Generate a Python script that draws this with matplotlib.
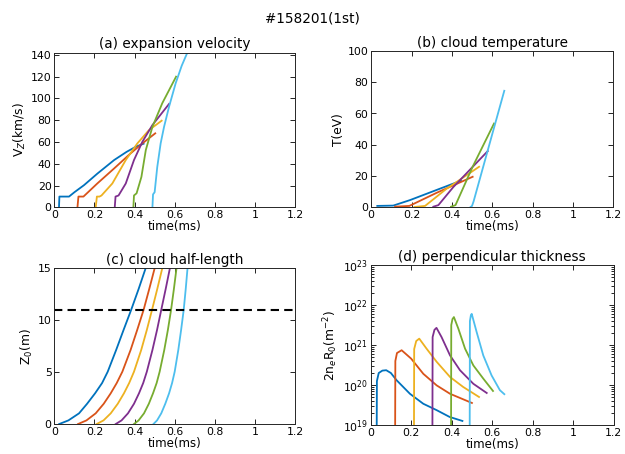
import numpy as np
import matplotlib
matplotlib.use('Agg')
import matplotlib.pyplot as plt

# matlab default line colors
colors = ['#0072BD', '#D95319', '#EDB120', '#7E2F8E', '#77AC30', '#4DBEEE']

# (a) expansion velocity, km/s
ta = [
    [0.023, 0.025, 0.04, 0.073, 0.10, 0.148, 0.214, 0.298, 0.36, 0.406, 0.445],
    [0.115, 0.12, 0.13, 0.145, 0.214, 0.298, 0.38, 0.439, 0.503],
    [0.206, 0.212, 0.225, 0.235, 0.289, 0.356, 0.414, 0.472, 0.535],
    [0.301, 0.305, 0.32, 0.356, 0.397, 0.439, 0.489, 0.572],
    [0.394, 0.397, 0.41, 0.434, 0.456, 0.489, 0.538, 0.607],
    [0.489, 0.492, 0.50, 0.513, 0.53, 0.547, 0.572, 0.605, 0.635, 0.663],
]
va = [
    [0, 10, 10, 10, 14, 20.5, 31, 43.5, 51, 55.7, 58.5],
    [0, 10, 10, 10, 22, 35.8, 49.6, 58.8, 68],
    [0, 10, 10, 11, 22, 43.5, 58.8, 71, 79.6],
    [0, 10, 11, 22, 43.5, 60.3, 75.6, 95],
    [0, 11, 13, 28, 52.7, 74, 95.6, 120],
    [0, 12, 14, 37, 58.8, 74, 92.5, 114, 130, 142],
]

# (b) cloud temperature, eV
tb = [
    [0.03, 0.109, 0.192, 0.3, 0.4, 0.445],
    [0.118, 0.189, 0.325, 0.503],
    [0.214, 0.267, 0.374, 0.535],
    [0.308, 0.333, 0.407, 0.578],
    [0.396, 0.418, 0.503, 0.609],
    [0.49, 0.50, 0.508, 0.66],
]
Tb = [
    [1, 1.2, 4.7, 10, 14.9, 17],
    [0.5, 1, 9.4, 19.6],
    [0.3, 1, 12, 26],
    [0.5, 1.5, 13, 36],
    [0.5, 1.5, 26, 53.6],
    [0, 1, 4, 74.5],
]

# (c) cloud half-length, m  (time at which each curve reaches the levels in zc)
zc = [0, 0.35, 1.03, 1.95, 2.96, 3.95, 5.04, 7.13, 9.06, 11, 13, 15]
tc = [
    [0.024, 0.07, 0.123, 0.163, 0.203, 0.238, 0.266, 0.308, 0.345, 0.383, 0.42, 0.455],
    [0.118, 0.16, 0.206, 0.246, 0.281, 0.311, 0.339, 0.38, 0.413, 0.445, 0.473, 0.5],
    [0.211, 0.245, 0.281, 0.316, 0.347, 0.373, 0.397, 0.433, 0.461, 0.487, 0.513, 0.538],
    [0.306, 0.335, 0.367, 0.397, 0.422, 0.443, 0.461, 0.489, 0.512, 0.533, 0.555, 0.576],
    [0.397, 0.42, 0.447, 0.471, 0.492, 0.51, 0.525, 0.548, 0.566, 0.582, 0.596, 0.609],
    [0.494, 0.512, 0.533, 0.553, 0.572, 0.587, 0.6, 0.618, 0.632, 0.645, 0.655, 0.664],
]
z_limit = 11

# (d) perpendicular thickness, log10 of m^-2
td = [
    [0.03, 0.031, 0.04, 0.058, 0.077, 0.10, 0.128, 0.194, 0.26, 0.326, 0.39, 0.453],
    [0.121, 0.122, 0.13, 0.153, 0.2, 0.26, 0.326, 0.392, 0.5],
    [0.214, 0.215, 0.225, 0.24, 0.276, 0.326, 0.392, 0.457, 0.535],
    [0.305, 0.306, 0.315, 0.325, 0.35, 0.392, 0.441, 0.507, 0.573],
    [0.397, 0.398, 0.404, 0.411, 0.433, 0.466, 0.507, 0.556, 0.604],
    [0.489, 0.49, 0.495, 0.499, 0.523, 0.556, 0.597, 0.638, 0.66],
]
nd_log = [
    [18.9, 20.1, 20.3, 20.36, 20.37, 20.3, 20.12, 19.78, 19.53, 19.37, 19.2, 19.1],
    [18.9, 20.6, 20.8, 20.87, 20.66, 20.28, 19.99, 19.78, 19.55],
    [18.9, 20.9, 21.1, 21.16, 20.91, 20.58, 20.2, 19.95, 19.7],
    [18.9, 21.2, 21.38, 21.43, 21.2, 20.74, 20.37, 20.03, 19.8],
    [18.9, 21.5, 21.65, 21.7, 21.41, 20.91, 20.49, 20.16, 19.85],
    [18.9, 21.6, 21.75, 21.78, 21.33, 20.74, 20.24, 19.87, 19.77],
]

xticks = [0, 0.2, 0.4, 0.6, 0.8, 1, 1.2]
xticklabels = ['0', '0.2', '0.4', '0.6', '0.8', '1', '1.2']

plt.rcParams['font.family'] = ['DejaVu Sans']
plt.rcParams['mathtext.fontset'] = 'dejavusans'

fig = plt.figure(figsize=(6.25, 4.54), dpi=100)
fig.text(0.5, 0.96, '#158201(1st)', ha='center', va='center', fontsize=9.8)

ax_a = fig.add_axes([0.087, 0.543, 0.385, 0.341])
ax_b = fig.add_axes([0.594, 0.543, 0.387, 0.345])
ax_c = fig.add_axes([0.087, 0.066, 0.385, 0.343])
ax_d = fig.add_axes([0.593, 0.064, 0.389, 0.352])


def style(ax, title, ylabel):
    ax.set_xlim(0, 1.2)
    ax.set_xticks(xticks)
    ax.set_xticklabels(xticklabels)
    ax.tick_params(which='both', direction='in', top=True, right=True,
                   labelsize=7.8, width=0.6, pad=2)
    ax.tick_params(which='major', length=3.5)
    ax.tick_params(which='minor', length=2)
    for s in ax.spines.values():
        s.set_linewidth(0.7)
        s.set_color('#262626')
    ax.set_title(title, fontsize=9.8, pad=3)
    ax.set_xlabel('time(ms)', fontsize=8.5, labelpad=0)
    ax.set_ylabel(ylabel, fontsize=8.8, labelpad=2)


for i in range(6):
    ax_a.plot(ta[i], va[i], color=colors[i], lw=1.3)
    ax_b.plot(tb[i], Tb[i], color=colors[i], lw=1.3)
    ax_c.plot(tc[i], zc, color=colors[i], lw=1.3)
    ax_d.plot(td[i], np.power(10.0, nd_log[i]), color=colors[i], lw=1.3)

style(ax_a, '(a) expansion velocity', r'V$_Z$(km/s)')
ax_a.set_ylim(0, 142)
ax_a.set_yticks(range(0, 141, 20))

style(ax_b, '(b) cloud temperature', 'T(eV)')
ax_b.set_ylim(0, 100)
ax_b.set_yticks(range(0, 101, 20))

style(ax_c, '(c) cloud half-length', r'Z$_0$(m)')
ax_c.axhline(z_limit, color='k', lw=1.5, ls=(0, (4, 2.5)))
ax_c.set_ylim(0, 15)
ax_c.set_yticks([0, 5, 10, 15])

ax_d.set_yscale('log')
style(ax_d, '(d) perpendicular thickness', r'2n$_e$R$_0$(m$^{-2}$)')
ax_d.set_ylim(1e19, 1e23)
ax_d.set_yticks([1e19, 1e20, 1e21, 1e22, 1e23])
ax_d.tick_params(axis='x', which='minor', top=False, bottom=False)

fig.savefig('out.png', dpi=100)
